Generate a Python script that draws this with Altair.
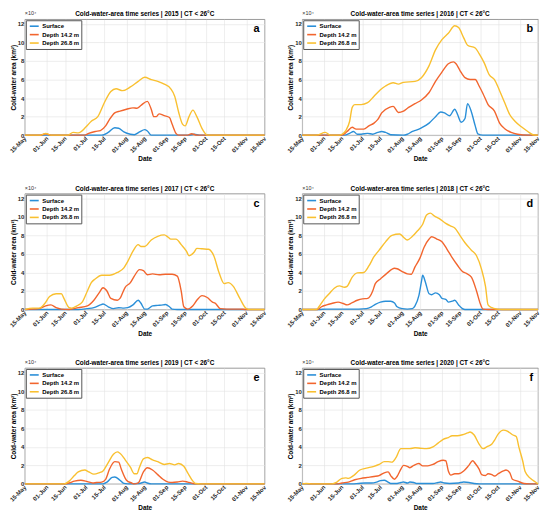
import altair as alt
import pandas as pd

# ---------------- labels / categories ----------------
YEARS = [2015, 2016, 2017, 2018, 2019, 2020]
LETTERS = ["a", "b", "c", "d", "e", "f"]
SERIES = ["Surface", "Depth 14.2 m", "Depth 26.8 m"]
COLORS = ["#2a8fd8", "#f2652e", "#f9c030"]

# x ticks: days since 15-May
TICK_DAYS = [0, 17, 31, 47, 61, 78, 92, 109, 123, 139, 153, 170, 184]
TICK_LABELS = ["15-May", "01-Jun", "15-Jun", "01-Jul", "15-Jul", "01-Aug", "15-Aug",
               "01-Sep", "15-Sep", "01-Oct", "15-Oct", "01-Nov", "15-Nov"]
Y_TICKS = [0, 2, 4, 6, 8, 10, 12]

# ---------------- series (days since 15-May, area in 10^4 km^2) ----------------
# 2015
S15_D = [0, 59, 64, 69, 72, 76, 81, 84, 88, 92, 94, 97, 126, 130, 134, 184]
S15_V = [0, 0, 0.3, 0.8, 0.75, 0.35, 0.1, 0.05, 0.35, 0.6, 0.45, 0, 0, 0.1, 0, 0]
M15_D = [0, 12, 16, 20, 46, 49, 54, 58, 62, 65, 69, 73, 78, 83, 86, 89, 94, 97, 99, 101,
         103, 107, 111, 113, 116, 118, 125, 128, 132, 184]
M15_V = [0, 0, 0.15, 0, 0, 0.2, 0.4, 0.5, 1.0, 1.7, 2.4, 2.6, 2.8, 2.95, 2.9, 3.2, 3.65, 2.8,
         2.0, 2.0, 2.3, 2.1, 1.9, 1.2, 0.2, 0, 0, 0.15, 0, 0]
D15_D = [0, 12, 16, 20, 33, 37, 41, 47, 51, 56, 61, 66, 70, 75, 81, 87, 92, 97, 102, 107,
         112, 115, 118, 121, 123, 126, 129, 132, 136, 140, 184]
D15_V = [0, 0, 0.2, 0, 0, 0.3, 0.25, 0.9, 1.5, 2.0, 3.5, 4.7, 5.0, 4.8, 5.2, 5.8, 6.25, 6.0,
         5.8, 5.5, 5.0, 4.2, 2.5, 1.2, 1.0, 2.0, 2.7, 2.0, 0.7, 0, 0]

# 2016
S16_D = [0, 33, 37, 40, 43, 46, 51, 55, 59, 62, 65, 69, 79, 82, 86, 89, 93, 99, 104, 108,
         111, 115, 119, 121, 124, 127, 129, 132, 135, 137, 141, 184]
S16_V = [0, 0, 0.2, 0.4, 0.1, 0.1, 0.2, 0.1, 0.3, 0.4, 0.3, 0.05, 0, 0.1, 0.4, 0.55, 0.8, 1.3,
         2.0, 2.5, 2.4, 2.1, 2.8, 2.3, 1.4, 1.8, 3.4, 2.5, 1.0, 0.15, 0, 0]
M16_D = [0, 31, 35, 39, 42, 48, 52, 56, 59, 62, 68, 71, 75, 79, 83, 88, 93, 99, 104, 109,
         114, 118, 120, 123, 127, 131, 135, 138, 141, 145, 150, 154, 158, 163, 168, 176, 184]
M16_V = [0, 0, 0.4, 0.85, 0.65, 0.65, 1.0, 1.3, 1.7, 2.4, 3.0, 3.1, 2.45, 2.6, 3.0, 3.4, 3.8,
         4.6, 5.8, 6.8, 7.7, 7.9, 7.7, 7.0, 6.2, 6.0, 6.0, 5.3, 4.5, 3.3, 2.6, 1.3, 0.7, 0.3,
         0.1, 0, 0]
D16_D = [0, 11, 18, 22, 29, 31, 34, 37, 39, 41, 46, 51, 56, 61, 65, 71, 75, 79, 88, 93,
         99, 104, 109, 114, 119, 122, 126, 129, 135, 138, 142, 146, 150, 154, 158, 162, 166,
         171, 176, 180, 184]
D16_V = [0, 0, 0.3, 0, 0, 0.1, 0.5, 1.5, 3.0, 3.3, 3.3, 3.5, 4.2, 4.9, 5.3, 5.65, 5.5, 5.7,
         5.8, 6.2, 7.5, 9.2, 10.3, 11.0, 11.8, 11.6, 10.5, 9.7, 9.4, 8.8, 7.8, 6.5, 6.0, 4.8,
         3.5, 2.2, 1.5, 0.9, 0.4, 0.05, 0]

# 2017
S17_D = [0, 41, 48, 53, 58, 60, 64, 68, 72, 76, 79, 83, 87, 89, 92, 94, 98, 102, 106, 108,
         111, 113, 117, 184]
S17_V = [0, 0, 0.1, 0.2, 0.5, 0.6, 0.3, 0.1, 0.2, 0.15, 0.2, 0.5, 1.0, 0.7, 0.05, 0.05, 0.4,
         0.45, 0.5, 0.55, 0.3, 0.05, 0, 0]
M17_D = [0, 6, 11, 16, 20, 24, 28, 34, 41, 48, 53, 57, 60, 63, 66, 71, 73, 77, 81, 84,
         88, 91, 94, 98, 103, 108, 113, 117, 120, 122, 125, 129, 132, 136, 140, 144, 146, 150,
         155, 165, 170, 184]
M17_V = [0, 0.05, 0.1, 0.4, 0.5, 0.2, 0.05, 0, 0.2, 0.4, 1.0, 1.8, 2.35, 2.0, 1.2, 1.0, 1.2,
         2.4, 2.9, 3.6, 4.3, 4.2, 3.75, 3.85, 3.75, 3.8, 3.8, 3.6, 2.0, 0.3, 0.05, 0.4, 1.0,
         1.5, 1.3, 0.8, 0.7, 0.1, 0.05, 0.05, 0, 0]
D17_D = [0, 6, 11, 15, 19, 24, 28, 30, 34, 36, 40, 44, 48, 51, 54, 59, 65, 71, 76, 79,
         83, 87, 89, 92, 97, 102, 107, 110, 112, 116, 120, 124, 126, 130, 132, 136, 141, 145,
         149, 153, 156, 160, 165, 170, 173, 184]
D17_V = [0, 0.15, 0.15, 0.6, 1.4, 1.7, 1.7, 1.2, 0.2, 0.15, 0.4, 0.8, 2.0, 2.9, 3.3, 3.7, 3.7,
         4.0, 4.5, 5.2, 6.3, 7.0, 6.8, 6.8, 7.5, 7.9, 8.05, 7.8, 7.6, 7.6, 7.0, 6.3, 5.8, 6.2,
         6.6, 6.55, 6.5, 5.8, 4.0, 2.8, 2.9, 2.5, 1.2, 0.1, 0, 0]

# 2018
S18_D = [0, 13, 19, 32, 44, 50, 54, 57, 61, 65, 69, 72, 74, 78, 82, 86, 88, 91, 93, 94,
         96, 99, 101, 104, 107, 109, 112, 114, 117, 119, 122, 125, 127, 184]
S18_V = [0, 0, 0.05, 0.05, 0.05, 0.1, 0.3, 0.55, 0.8, 0.9, 0.9, 0.7, 0.3, 0.1, 0.05, 0.1, 0.4,
         1.5, 3.0, 3.7, 3.0, 1.7, 1.6, 1.8, 1.6, 1.2, 1.1, 0.8, 0.9, 1.0, 0.5, 0.1, 0, 0]
M18_D = [0, 12, 15, 19, 23, 28, 32, 35, 39, 43, 47, 51, 55, 57, 61, 66, 72, 74, 78, 82,
         85, 88, 92, 95, 99, 101, 105, 109, 113, 117, 121, 125, 128, 132, 136, 139, 141, 145, 184]
M18_V = [0, 0, 0.3, 0.5, 0.65, 0.8, 0.65, 0.5, 0.75, 1.0, 1.15, 1.2, 2.0, 2.8, 3.3, 3.9, 4.45,
         4.4, 4.1, 3.85, 3.8, 4.6, 5.6, 6.7, 7.6, 7.85, 7.6, 7.3, 6.5, 5.6, 4.8, 4.1, 3.9, 3.5,
         2.0, 0.6, 0.05, 0, 0]
D18_D = [0, 11, 13, 17, 21, 25, 29, 33, 35, 39, 43, 48, 52, 56, 60, 65, 70, 76, 79, 82,
         86, 90, 94, 97, 100, 103, 107, 112, 116, 119, 123, 127, 132, 136, 140, 143, 145, 148,
         152, 156, 184]
D18_V = [0, 0, 0.3, 1.1, 1.7, 2.3, 2.55, 2.4, 2.5, 3.5, 3.95, 4.0, 4.7, 5.7, 6.4, 7.3, 8.0,
         8.15, 7.8, 7.5, 7.9, 8.5, 9.2, 10.2, 10.4, 10.1, 9.8, 9.3, 9.0, 8.8, 8.0, 7.2, 6.4, 5.8,
         4.3, 2.5, 0.5, 0.2, 0.05, 0, 0]

# 2019
S19_D = [0, 60, 63, 67, 69, 73, 76, 79, 88, 92, 94, 97, 184]
S19_V = [0, 0, 0.2, 0.7, 0.75, 0.4, 0.05, 0, 0.05, 0.2, 0.1, 0, 0]
M19_D = [0, 30, 34, 38, 43, 48, 52, 55, 59, 62, 65, 69, 72, 74, 78, 82, 84, 87, 91, 94,
         98, 102, 106, 110, 113, 117, 121, 125, 129, 132, 184]
M19_V = [0, 0, 0.1, 0.3, 0.4, 0.25, 0.1, 0.15, 0.2, 0.5, 1.6, 2.4, 2.35, 1.6, 0.4, 0.1, 0, 0.1,
         1.3, 1.75, 1.5, 1.0, 0.5, 0.2, 0.15, 0.2, 0.3, 0.2, 0.05, 0, 0]
D19_D = [0, 30, 34, 38, 41, 46, 49, 53, 57, 60, 64, 68, 71, 73, 77, 81, 84, 86, 88, 91,
         94, 98, 102, 107, 111, 115, 118, 122, 125, 129, 131, 135, 184]
D19_V = [0, 0, 0.3, 0.9, 1.3, 1.5, 1.3, 1.05, 1.2, 1.4, 2.3, 3.2, 3.45, 3.3, 2.6, 1.8, 1.1, 1.1,
         1.8, 2.7, 2.85, 2.6, 2.4, 2.1, 2.2, 2.05, 2.2, 1.9, 1.2, 0.3, 0.05, 0, 0]

# 2020
S20_D = [0, 39, 44, 49, 54, 58, 61, 64, 67, 69, 74, 77, 79, 82, 84, 87, 89, 102, 106, 108,
         111, 115, 122, 126, 130, 134, 138, 184]
S20_V = [0, 0, 0.05, 0.1, 0.1, 0.2, 0.35, 0.4, 0.2, 0.05, 0.05, 0.15, 0.2, 0.1, 0.2, 0.15,
         0.05, 0.05, 0.15, 0.2, 0.1, 0.05, 0.1, 0.2, 0.15, 0.05, 0, 0]
M20_D = [0, 3, 8, 27, 31, 36, 41, 46, 51, 56, 60, 64, 67, 69, 72, 74, 77, 79, 82, 84,
         87, 91, 94, 98, 102, 106, 110, 112, 114, 116, 119, 122, 126, 130, 133, 135, 138, 140,
         143, 145, 148, 150, 153, 157, 159, 162, 164, 168, 173, 177, 184]
M20_V = [0, 0.03, 0, 0, 0.1, 0.2, 0.45, 0.6, 0.7, 0.8, 0.9, 1.2, 1.3, 0.9, 0.5, 0.8, 1.6, 2.0,
         1.9, 1.75, 2.0, 2.2, 1.95, 1.95, 2.1, 2.4, 2.55, 2.5, 1.4, 0.95, 1.1, 1.1, 1.4, 2.0,
         2.5, 2.2, 1.6, 1.0, 0.9, 1.1, 1.0, 0.85, 1.1, 1.4, 1.5, 1.2, 0.5, 0.3, 0.05, 0, 0]
D20_D = [0, 3, 8, 23, 27, 31, 34, 36, 40, 45, 50, 56, 60, 64, 67, 70, 73, 77, 81, 84,
         88, 92, 97, 102, 106, 110, 114, 117, 121, 125, 129, 131, 134, 138, 141, 144, 148, 150,
         153, 157, 160, 164, 167, 169, 172, 174, 178, 182, 184]
D20_V = [0, 0.05, 0, 0, 0.2, 0.6, 0.65, 0.6, 0.9, 1.5, 1.7, 1.9, 2.1, 2.4, 2.4, 2.35, 2.8, 3.8,
         3.8, 3.8, 3.9, 3.85, 3.8, 4.0, 4.4, 4.8, 5.0, 5.2, 5.2, 5.3, 5.5, 5.6, 5.3, 4.3, 3.8,
         4.0, 4.3, 4.7, 5.4, 5.8, 5.7, 5.3, 5.1, 4.0, 2.5, 1.3, 0.6, 0.2, 0]

YEAR_SERIES = {
    2015: [(S15_D, S15_V), (M15_D, M15_V), (D15_D, D15_V)],
    2016: [(S16_D, S16_V), (M16_D, M16_V), (D16_D, D16_V)],
    2017: [(S17_D, S17_V), (M17_D, M17_V), (D17_D, D17_V)],
    2018: [(S18_D, S18_V), (M18_D, M18_V), (D18_D, D18_V)],
    2019: [(S19_D, S19_V), (M19_D, M19_V), (D19_D, D19_V)],
    2020: [(S20_D, S20_V), (M20_D, M20_V), (D20_D, D20_V)],
}

# ---------------- chart ----------------
WL, WR, H = 242, 238, 117
FONT = "Liberation Sans"

label_expr = "[" + ",".join("'%s'" % t for t in TICK_LABELS) + "][indexof([" + \
    ",".join(str(d) for d in TICK_DAYS) + "], datum.value)]"

color_scale = alt.Scale(domain=SERIES, range=COLORS)


def panel(year, letter, W):
    rows = []
    for name, (days, vals) in zip(SERIES, YEAR_SERIES[year]):
        for d, v in zip(days, vals):
            rows.append({"day": d, "area": v, "series": name})
    df = pd.DataFrame(rows)

    x = alt.X("day:Q", scale=alt.Scale(domain=[0, 184], nice=False, zero=False),
              axis=alt.Axis(values=TICK_DAYS, labelExpr=label_expr, title="Date",
                            labelAngle=-45, labelAlign="right", labelBaseline="middle",
                            labelOverlap=False, labelPadding=2, titleY=21,
                            titleBaseline="top"))
    y = alt.Y("area:Q", scale=alt.Scale(domain=[0, 12.5], nice=False),
              axis=alt.Axis(values=Y_TICKS, title="Cold-water area (km²)",
                            labelOverlap=False, labelPadding=1, titlePadding=1))
    layers = []
    for name in SERIES:
        leg = alt.Legend(title=None, orient="top-left", offset=1, padding=2,
                         fillColor="white", strokeColor="#555555",
                         symbolType="M-1.5,0H1.5", symbolStrokeWidth=1.6, symbolSize=36,
                         labelFontSize=6, labelFont=FONT, labelFontWeight="bold",
                         labelColor="#000000", rowPadding=0.5, labelOffset=4,
                         symbolOffset=2.5)
        layers.append(
            alt.Chart(df).transform_filter(alt.datum.series == name)
            .mark_line(strokeWidth=1.4, interpolate="monotone")
            .encode(x=x, y=y, color=alt.Color("series:N", scale=color_scale, legend=leg))
        )
    one = alt.Data(values=[{"k": 1}])
    title = alt.Chart(one).mark_text(align="center", baseline="bottom", fontSize=6.5,
                                     fontWeight="bold", font=FONT, color="#000000").encode(
        x=alt.value(W / 2), y=alt.value(-2),
        text=alt.value("Cold-water-area time series | %d | CT < 26°C" % year))
    mult = alt.Chart(one).mark_text(align="left", baseline="bottom", fontSize=5.5,
                                    font=FONT, color="#333333").encode(
        x=alt.value(0), y=alt.value(-3), text=alt.value("×10⁴"))
    let = alt.Chart(one).mark_text(align="right", baseline="middle", fontSize=11,
                                   fontWeight="bold", font=FONT, color="#000000").encode(
        x=alt.value(W - 5), y=alt.value(10), text=alt.value(letter))
    return alt.layer(*layers, title, mult, let).properties(width=W, height=H)


rows = []
for r in range(3):
    a = panel(YEARS[2 * r], LETTERS[2 * r], WL)
    b = panel(YEARS[2 * r + 1], LETTERS[2 * r + 1], WR)
    rows.append(alt.hconcat(a, b, spacing=17).resolve_legend(color="independent"))

chart = alt.vconcat(*rows, spacing=22).resolve_legend(color="independent").properties(
    padding=0, background="white"
).configure_view(stroke="#6e6e6e", strokeWidth=0.7).configure_axis(
    domain=False, ticks=False, grid=True, gridColor="#e3e3e3", gridWidth=0.6,
    labelFont=FONT, labelFontSize=6, labelFontWeight="bold", labelColor="#262626",
    titleFont=FONT, titleFontSize=6.5, titleFontWeight="bold", titleColor="#000000"
)

chart.save("out.html", embed_options={"renderer": "svg", "actions": False})
